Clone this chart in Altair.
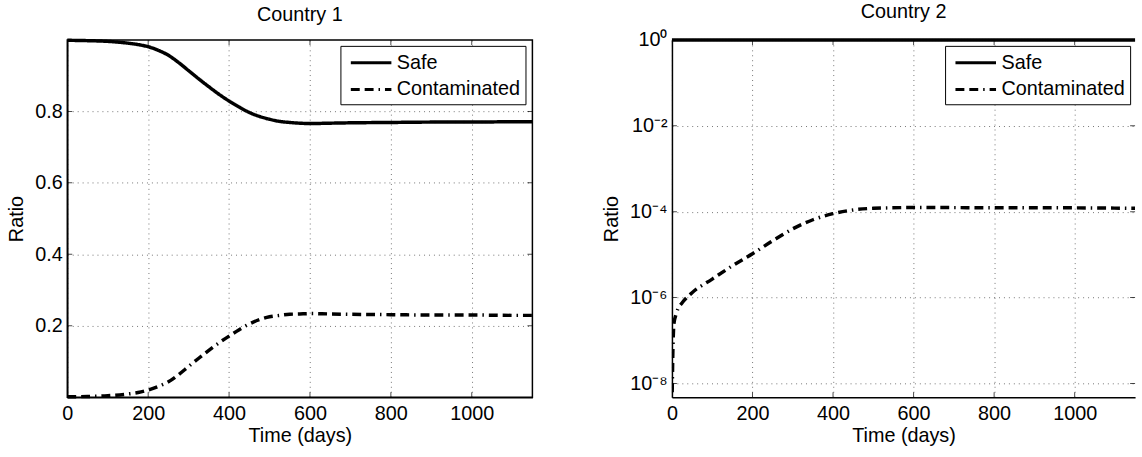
import altair as alt
import pandas as pd

FONT = "Liberation Sans"
FS = 20
SERIES = ["Safe", "Contaminated"]
DASHES = [[1, 0], [9, 5, 9, 5, 1.5, 5]]

# Country 1 (linear)
c1_days = [0, 50, 100, 150, 175, 200, 225, 250, 275, 300, 325, 350, 375, 400, 425, 450, 475, 500,
           525, 550, 575, 600, 650, 700, 800, 900, 1000, 1100, 1150]
c1_safe = [0.999, 0.998, 0.996, 0.991, 0.987, 0.981, 0.971, 0.957, 0.937, 0.914, 0.891, 0.869, 0.848,
           0.829, 0.812, 0.797, 0.786, 0.778, 0.772, 0.769, 0.767, 0.766, 0.767, 0.768, 0.769, 0.770,
           0.770, 0.771, 0.771]
c1_cont = [0.001, 0.002, 0.004, 0.009, 0.013, 0.020, 0.030, 0.043, 0.063, 0.086, 0.109, 0.131, 0.152,
           0.171, 0.189, 0.205, 0.217, 0.225, 0.229, 0.232, 0.233, 0.234, 0.233, 0.232, 0.231, 0.230,
           0.230, 0.229, 0.229]

# Country 2 (log)
c2_safe_days = [0, 1150]
c2_safe = [0.99995, 0.99995]
c2_cont_days = [0, 1, 2, 3, 5, 10, 15, 25, 50, 100, 150, 200, 250, 300, 350, 400, 450, 500, 600, 800,
                1000, 1150]
c2_cont = [3e-9, 1e-8, 4e-8, 1e-7, 2.5e-7, 4e-7, 5.5e-7, 7.5e-7, 1.3e-6, 2.7e-6, 5.5e-6, 1.05e-5,
           2.1e-5, 4.0e-5, 6.5e-5, 9.0e-5, 1.1e-4, 1.2e-4, 1.25e-4, 1.24e-4, 1.23e-4, 1.2e-4]

x_ticks = [0, 200, 400, 600, 800, 1000]
c1_y_ticks = [0.2, 0.4, 0.6, 0.8]
c2_y_ticks = [1e-8, 1e-6, 1e-4, 1e-2, 1]
c2_y_labels = ["10⁻⁸", "10⁻⁶", "10⁻⁴", "10⁻²", "10⁰"]

df1 = pd.DataFrame({
    "day": c1_days + c1_days,
    "ratio": c1_safe + c1_cont,
    "series": ["Safe"] * len(c1_days) + ["Contaminated"] * len(c1_days),
})
df2s = pd.DataFrame({"day": c2_safe_days, "ratio": c2_safe, "series": ["Safe"] * len(c2_safe_days)})
df2c = pd.DataFrame({"day": c2_cont_days, "ratio": c2_cont, "series": ["Contaminated"] * len(c2_cont_days)})
df_xt = pd.DataFrame({"day": x_ticks})
df_yt1 = pd.DataFrame({"ratio": c1_y_ticks})
df_yt2 = pd.DataFrame({"ratio": c2_y_ticks})

# label expression for the log axis
expr = "'" + c2_y_labels[0] + "'"
for v, lab in zip(c2_y_ticks[1:], c2_y_labels[1:]):
    expr = f"datum.value >= {v * 0.5} ? '{lab}' : ({expr})"

W1, W2, H = 470, 468, 361


def make_legend():
    return alt.Legend(
        title=None, orient="none", legendX=276, legendY=6, direction="vertical",
        strokeColor="black", fillColor="white", padding=5,
        symbolType="M-2,0H2", symbolSize=420, symbolStrokeWidth=3, symbolStrokeColor="black",
        labelFont=FONT, labelFontSize=FS, labelColor="black", rowPadding=5,
        labelOffset=14, symbolOffset=14, cornerRadius=0,
    )


def dash_enc():
    return alt.StrokeDash("series:N", scale=alt.Scale(domain=SERIES, range=DASHES),
                          legend=make_legend(), sort=SERIES)


xenc = alt.X("day:Q", scale=alt.Scale(domain=[0, 1150], nice=False),
             axis=alt.Axis(values=x_ticks, title="Time (days)", format="d", labelFlush=False))


def inner_ticks(yenc, yt_df, width):
    xt = alt.Chart(df_xt).mark_tick(orient="vertical", size=10, thickness=1, color="black", clip=True)
    yt = alt.Chart(yt_df).mark_tick(orient="horizontal", size=10, thickness=1, color="black", clip=True)
    return [
        xt.encode(x=xenc, y=alt.value(H)),
        xt.encode(x=xenc, y=alt.value(0)),
        yt.encode(y=yenc, x=alt.value(0)),
        yt.encode(y=yenc, x=alt.value(width)),
    ]


y1 = alt.Y("ratio:Q", scale=alt.Scale(domain=[0, 1], nice=False, zero=False),
           axis=alt.Axis(values=c1_y_ticks, title="Ratio", format=".1f"))

left_lines = alt.Chart(df1).mark_line(color="black", strokeWidth=3.5, interpolate="monotone").encode(
    x=xenc, y=y1, strokeDash=dash_enc())

left = alt.layer(left_lines, *inner_ticks(y1, df_yt1, W1)).properties(
    width=W1, height=H, title=alt.TitleParams("Country 1", anchor="middle"))

y2 = alt.Y("ratio:Q", scale=alt.Scale(type="log", domain=[4.8e-9, 1], nice=False),
           axis=alt.Axis(values=c2_y_ticks, title="Ratio", labelExpr=expr))

right_safe = alt.Chart(df2s).mark_line(color="black", strokeWidth=3.5, clip=False).encode(
    x=xenc, y=y2, strokeDash=dash_enc())
right_cont = alt.Chart(df2c).mark_line(color="black", strokeWidth=3.5, interpolate="monotone",
                                       clip=True).encode(x=xenc, y=y2, strokeDash=dash_enc())

right = alt.layer(right_cont, right_safe, *inner_ticks(y2, df_yt2, W2)).properties(
    width=W2, height=H, title=alt.TitleParams("Country 2", anchor="middle"),
    view=alt.ViewBackground(strokeOpacity=0),
)

chart = alt.hconcat(left, right, spacing=62).resolve_scale(
    x="independent", y="independent", strokeDash="independent"
).resolve_legend(strokeDash="independent").properties(
    padding={"left": 6, "top": 0, "right": 0, "bottom": 0}, background="white"
).configure_axis(
    labelFont=FONT, labelFontSize=FS, labelColor="black", titleFont=FONT, titleFontSize=FS,
    titleFontWeight="normal", titleColor="black", domainColor="black", domainWidth=1.5,
    grid=True, gridColor="black", gridDash=[1, 4], gridWidth=1, gridOpacity=0.55,
    ticks=False, labelPadding=5, labelOverlap=False,
).configure_axisX(titlePadding=2, labelPadding=7).configure_axisY(titlePadding=8).configure_view(
    stroke="black", strokeWidth=1.5
).configure_title(font=FONT, fontSize=FS, fontWeight="normal", color="black", offset=8)

chart.save("out.html", embed_options={"renderer": "svg", "actions": False})
